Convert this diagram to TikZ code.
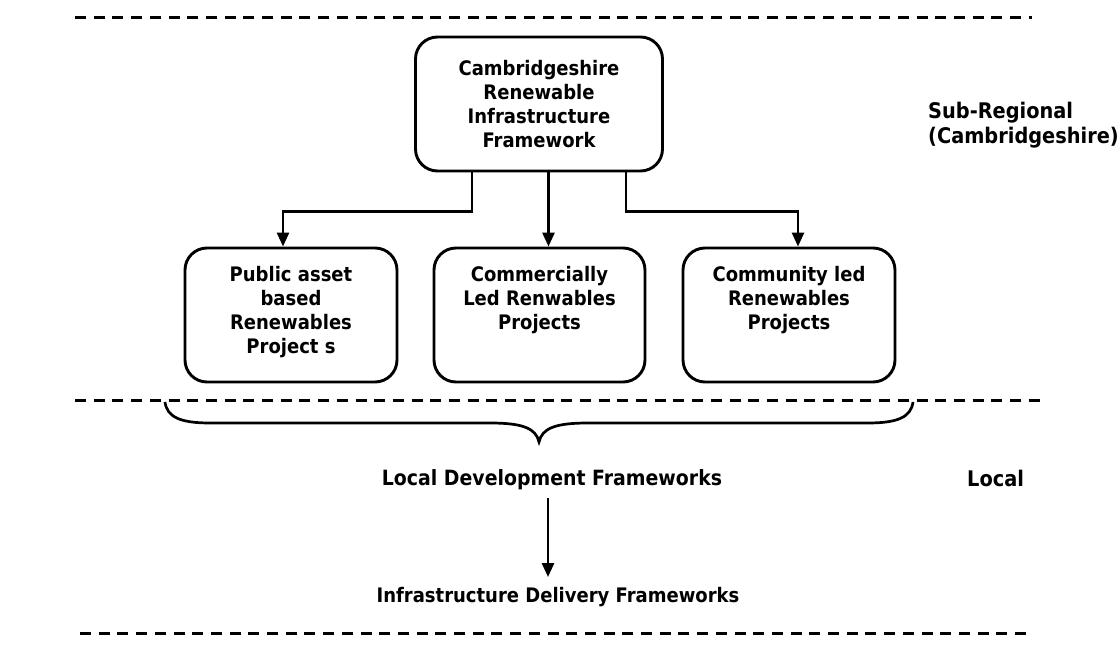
\documentclass[tikz,border=0pt]{standalone}
\usepackage{fontspec}
\setmainfont{DejaVu Sans}[FakeStretch=0.9]
\usetikzlibrary{arrows.meta}
\begin{document}
\begin{tikzpicture}[x=1pt,y=-1pt,
  every node/.style={font=\fontsize{20}{24}\selectfont\bfseries},
  boxstyle/.style={draw, line width=2.9pt, rounded corners=22pt, inner sep=0pt},
  conn/.style={line width=2.7pt},
  arr/.style={conn, -{Triangle[length=14pt,width=12pt]}},
  dashline/.style={line width=3pt, dash pattern=on 11pt off 7.7pt},
  lbl/.style={align=center, inner xsep=0pt, inner ysep=8pt}]
\useasboundingbox (0,0) rectangle (1120,652);

% dashed separators
\draw[dashline] (75,18) -- (1032,18);
\draw[dashline] (75,401) -- (1046,401);
\draw[dashline] (80,633) -- (1032,633);

% boxes
\node[boxstyle] (top) at (539,104) {\parbox[c][134pt][c]{247pt}{\centering Cambridgeshire\\Renewable\\Infrastructure\\Framework}};
\node[boxstyle] (b1) at (291,315) {\parbox[c][134pt][t]{212pt}{\centering\vspace*{18pt}Public asset\\based\\Renewables\\Project s}};
\node[boxstyle] (b2) at (539.5,315) {\parbox[c][134pt][t]{211pt}{\centering\vspace*{18pt}Commercially\\Led Renwables\\Projects}};
\node[boxstyle] (b3) at (789,315) {\parbox[c][134pt][t]{212pt}{\centering\vspace*{18pt}Community led\\Renewables\\Projects}};

% connectors
\draw[arr] ([xshift=-67pt]top.south) -- ++(0,39) -| ([xshift=-8pt]b1.north);
\draw[arr] ([xshift=9.5pt]top.south) -- ([xshift=9.5pt]top.south |- b2.north);
\draw[arr] ([xshift=87pt]top.south) -- ++(0,39) -| ([xshift=9pt]b3.north);

% brace
\draw[line width=2.7pt] (165,402) .. controls (167,417) and (180,423) .. (210,423)
  -- (490,423) .. controls (522,423) and (536,428) .. (539,442)
  .. controls (542,428) and (556,423) .. (588,423)
  -- (868,423) .. controls (898,423) and (911,417) .. (913,402);

% lower labels
\node[lbl, font=\fontsize{21}{24}\selectfont\bfseries] (ldf) at (552,480) {Local Development Frameworks};
\node[lbl] (idf) at (558,597) {Infrastructure Delivery Frameworks};
\draw[arr, shorten >=2pt] ([xshift=-4pt]ldf.south) -- ([xshift=-4pt]ldf.south |- idf.north);

% side labels
\node[anchor=west, align=left, inner sep=0pt, font=\fontsize{21.5}{25}\selectfont\bfseries] (sub) at (928,125.5) {Sub-Regional\\(Cambridgeshire)};
\node[anchor=west, inner sep=0pt, font=\fontsize{21.5}{25}\selectfont\bfseries] (loc) at (967,478) {Local};
\end{tikzpicture}
\end{document}
